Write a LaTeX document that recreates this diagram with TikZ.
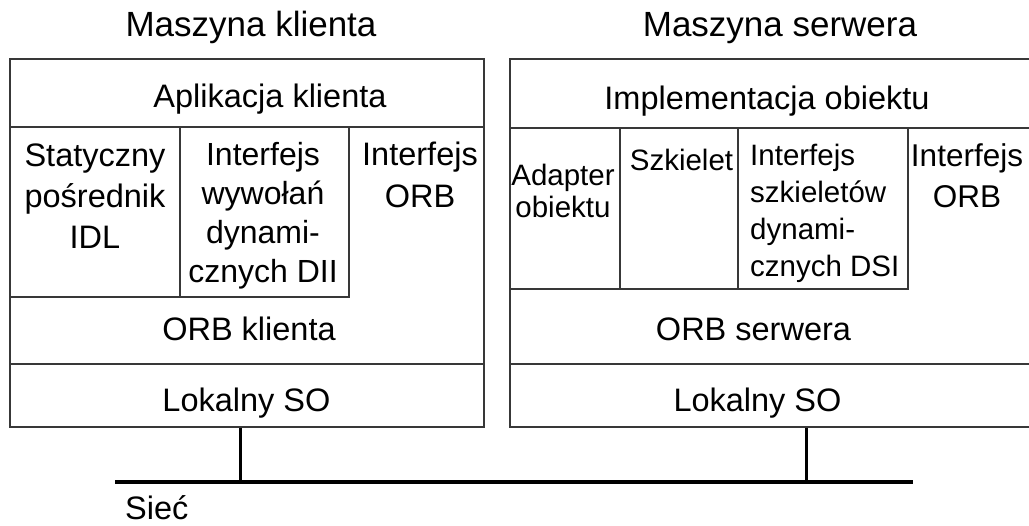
\documentclass[tikz,border=0pt]{standalone}
\usepackage{fontspec}
\setmainfont{Liberation Sans}
\definecolor{framec}{gray}{0.22}
\begin{document}
\begin{tikzpicture}[x=1pt,y=-1pt,
  frame/.style={draw=framec, line width=1.2pt},
  band/.style={frame, rectangle, inner sep=0pt},
  txt/.style={anchor=base, inner sep=0pt, align=center, font=\fontsize{32.5}{41}\selectfont},
  title/.style={anchor=base, inner sep=0pt, font=\fontsize{35}{42}\selectfont},
  smalltxt/.style={txt, font=\fontsize{29.5}{37}\selectfont},
  bus/.style={line width=4.5pt, draw=black},
  tap/.style={line width=3pt, draw=black}]
\useasboundingbox (0,0) rectangle (1029,526);

% machine titles
\node[title] (tcli) at (251,37) {Maszyna klienta};
\node[title] (tsrv) at (780,37) {Maszyna serwera};

% ---- client machine ----
% (multi-line labels are placed by the baseline of their last line)
\draw[frame] (10,59) rectangle (484,427);
\draw[frame] (10,127) -- (484,127);
\draw[frame] (10,297) -| (349,127);
\draw[frame] (180,127) -- (180,297);
\node[band, minimum width=474pt, minimum height=63pt] (osC) at (247,395.5) {};

\node[txt] (appC) at (270,108) {Aplikacja klienta};
\node[txt, font=\fontsize{32.5}{41}\selectfont] (stub) at (95,249) {Statyczny\\pośrednik\\IDL};
\node[txt, font=\fontsize{32}{39.3}\selectfont] (dii) at (263,283) {Interfejs\\wywołań\\dynami-\\cznych DII};
\node[txt, font=\fontsize{32.5}{42}\selectfont] (orbiC) at (420,208) {Interfejs\\ORB};
\node[txt] (orbC) at (249,341) {ORB klienta};
\node[txt] (losC) at (246.5,412) {Lokalny SO};

% ---- server machine ----
\draw[frame] (1040,59) -- (510,59) -- (510,427) -- (1040,427);
\draw[frame] (510,128) -- (1040,128);
\draw[frame] (510,289) -| (908,128);
\draw[frame] (620,128) -- (620,289);
\draw[frame] (738,128) -- (738,289);
\node[band, minimum width=530pt, minimum height=63pt] (osS) at (775,395.5) {};

\node[txt] (implS) at (767,110) {Implementacja obiektu};
\node[smalltxt, font=\fontsize{29.5}{32}\selectfont] (adapt) at (563,218) {Adapter\\obiektu};
\node[smalltxt] (skel) at (681.5,171) {Szkielet};
\node[smalltxt, align=left, anchor=base west] (dsi) at (750,277) {Interfejs\\szkieletów\\dynami-\\cznych DSI};
\node[txt, font=\fontsize{31.5}{41}\selectfont] (orbiS) at (967,208) {Interfejs\\ORB};
\node[txt] (orbS) at (753.5,341) {ORB serwera};
\node[txt] (losS) at (757.5,412) {Lokalny SO};

% ---- network ----
\coordinate (netL) at (115,482);
\coordinate (netR) at (913,482);
\coordinate (tapC) at (240,482);
\coordinate (tapS) at (806,482);
\draw[bus] (netL) -- (netR);
\draw[tap] (osC.south -| tapC) -- (tapC);
\draw[tap] (osS.south -| tapS) -- (tapS);
\node[txt, anchor=base west] (net) at (125,520) {Sieć};
\end{tikzpicture}
\end{document}
